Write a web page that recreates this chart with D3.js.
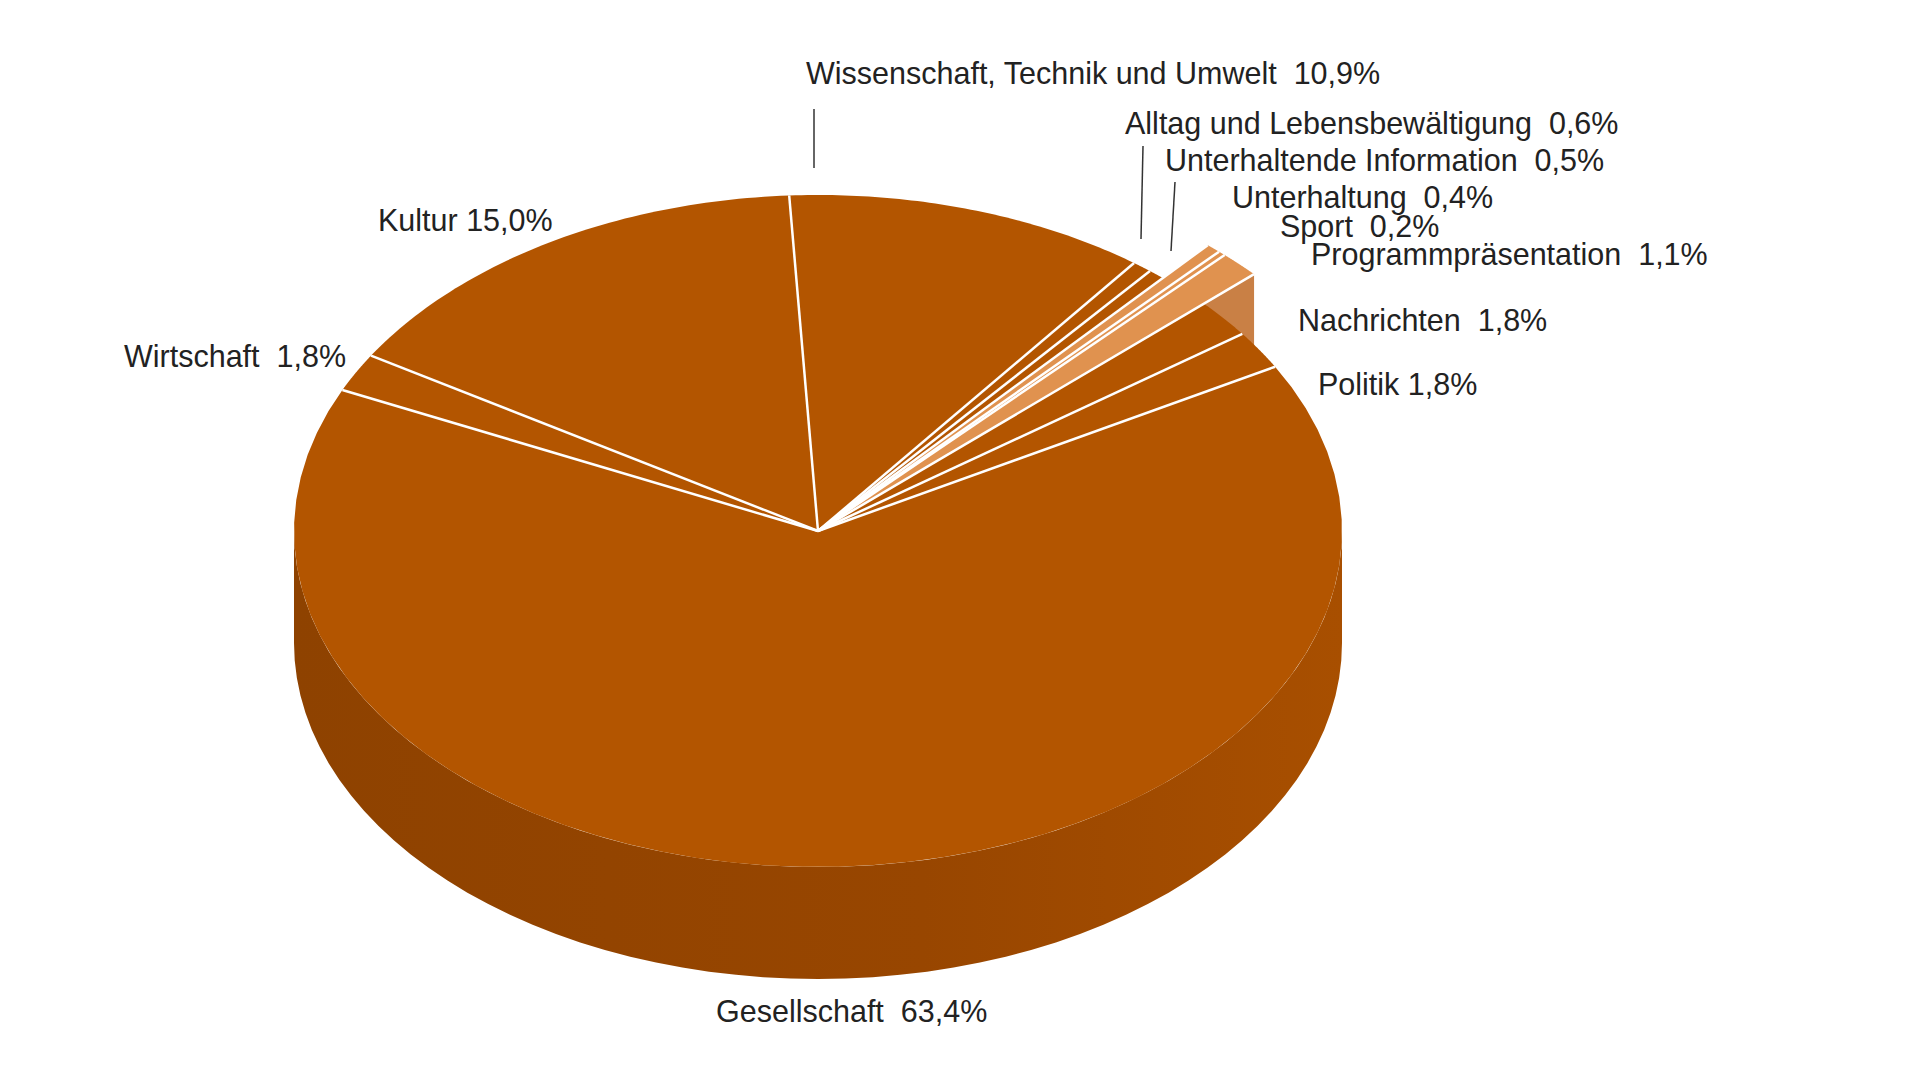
<!DOCTYPE html>
<html><head><meta charset="utf-8">
<script src="https://cdn.jsdelivr.net/npm/d3@7"></script>
<style>body{margin:0;background:#fff}text{font-family:"Liberation Sans",Arial,sans-serif;font-size:30.5px;fill:#222}</style>
</head><body>
<script>
const categories = ["Wissenschaft, Technik und Umwelt", "Alltag und Lebensbewältigung", "Unterhaltende Information",
  "Unterhaltung", "Sport", "Programmpräsentation", "Nachrichten", "Politik", "Gesellschaft", "Wirtschaft", "Kultur"];
const values = [10.9, 0.6, 0.5, 0.4, 0.2, 1.1, 1.8, 1.8, 63.4, 1.8, 15.0];
const exploded = ["Unterhaltung", "Sport", "Programmpräsentation"];
// label layout: [x, baseline, leader line or null]
const labelPos = [[806, 84, [814, 109, 814, 168]], [1125, 134, [1143, 146, 1141, 239]], [1165, 171, [1175, 182, 1171, 251]],
  [1232, 208], [1280, 237], [1311, 265], [1298, 331], [1318, 395], [716, 1022], [124, 367], [378, 231]];

const W = 1920, H = 1080, cx = 818, cy = 531, rx = 524, ry = 336, depth = 112;
const svg = d3.select("body").append("svg").attr("width", W).attr("height", H);
const fmt = v => d3.format(".1f")(v).replace(".", ",") + "%";

const pie = d3.pie().sort(null).startAngle(-0.055).endAngle(2 * Math.PI - 0.055);
const arcs = pie(values);
const pt = (a, r = 1, dy = 0) => [cx + rx * r * Math.sin(a), cy - ry * r * Math.cos(a) + dy];
const arcPts = (a0, a1, r, dy = 0) => d3.range(0, 61).map(i => pt(a0 + (a1 - a0) * i / 60, r, dy));
const line = d3.line();

const defs = svg.append("defs");
const g = defs.append("linearGradient").attr("id", "side");
g.append("stop").attr("offset", "0%").attr("stop-color", "#8e4200");
g.append("stop").attr("offset", "60%").attr("stop-color", "#984600");
g.append("stop").attr("offset", "100%").attr("stop-color", "#a84f00");

// front side wall
const front = arcPts(Math.PI / 2, 3 * Math.PI / 2, 1).concat(arcPts(3 * Math.PI / 2, Math.PI / 2, 1, depth));
svg.append("path").attr("d", line(front) + "Z").attr("fill", "url(#side)");

// exploded pieces
const ER = 1.13;
const isEx = d => exploded.includes(categories[d.index]);
const exArcs = arcs.filter(isEx);
const exEnd = d3.max(exArcs, d => d.endAngle);
const pa = pt(exEnd, ER), pb = pt(exEnd, 0.8);
svg.append("path").attr("d", line([pa, [pa[0], pa[1] + depth * 0.85], [pb[0], pb[1] + depth * 0.85], pb]) + "Z").attr("fill", "#c98045");

// main top faces
const wedge = (d, r) => line([[cx, cy]].concat(arcPts(d.startAngle, d.endAngle, r))) + "Z";
svg.append("g").selectAll("path").data(arcs.filter(d => !isEx(d))).join("path")
  .attr("d", d => wedge(d, 1)).attr("fill", "#b35500");
svg.append("g").selectAll("path").data(exArcs).join("path")
  .attr("d", d => wedge(d, ER)).attr("fill", "#e0924f");

// separators
svg.append("g").selectAll("path").data(arcs).join("path")
  .attr("d", d => line([[cx, cy], pt(d.startAngle, isEx(d) || isEx(arcs[(d.index + 10) % 11]) ? ER : 1)]))
  .attr("stroke", "#fff").attr("stroke-width", 2.5).attr("fill", "none");

// labels
const lab = svg.append("g");
categories.forEach((c, i) => {
  const p = labelPos[i];
  const sep = ["Kultur", "Politik"].includes(c) ? " " : "  ";
  lab.append("text").attr("x", p[0]).attr("y", p[1]).attr("xml:space", "preserve").text(c + sep + fmt(values[i]));
  if (p[2]) lab.append("line").attr("x1", p[2][0]).attr("y1", p[2][1]).attr("x2", p[2][2]).attr("y2", p[2][3])
    .attr("stroke", "#333").attr("stroke-width", 1.5);
});
</script>
</body></html>
